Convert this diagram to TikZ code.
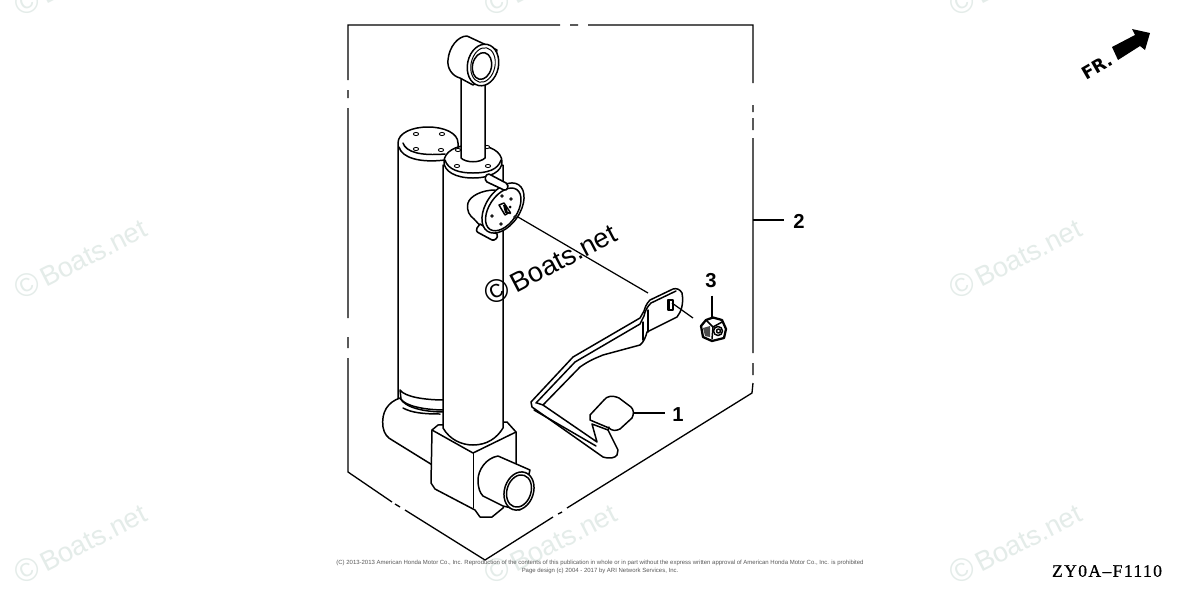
\documentclass[tikz,border=0pt]{standalone}
\usepackage{fontspec}
\setmainfont{Liberation Sans}
\newfontfamily\serifcode[LetterSpace=8,FakeBold=0.6]{Liberation Serif}
\newfontfamily\frfont{DejaVu Sans}
\newcommand{\wmtext}{{\fontsize{18.5pt}{18pt}\selectfont ©}\hspace{0.15em}Boats.net}
\newcommand{\wmark}[4]{\node[rotate=27,text=#3,font=\fontsize{15.6pt}{18pt}\selectfont] (#4) at (#1,#2) {\wmtext};}
\tikzset{
  ln/.style={line width=0.85pt,line join=round,line cap=round,draw=black},
  part/.style={ln,fill=white},
  thin part/.style={line width=0.55pt,line cap=round,line join=round,draw=black},
  frm/.style={line width=0.75pt,draw=black},
  hole/.style={line width=0.5pt,draw=black,fill=white},
  num/.style={font=\fontsize{11.5pt}{12pt}\selectfont\bfseries,inner sep=0pt},
  lead/.style={line width=0.7pt,draw=black}
}
\definecolor{wm}{RGB}{228,236,233}
\begin{document}
\begin{tikzpicture}[x=0.02cm,y=-0.02cm]
\useasboundingbox (0,0) rectangle (1200,599);
\fill[white] (0,0) rectangle (1200,599);
% watermarks
\wmark{80}{-25}{wm}{wa}\wmark{550}{-25}{wm}{wb}\wmark{1015}{-25}{wm}{wc}
\wmark{80}{258}{wm}{wd}\wmark{1015}{258}{wm}{we}
\wmark{80}{543}{wm}{wf}\wmark{550}{543}{wm}{wg}\wmark{1015}{543}{wm}{wh}
% frame
\draw[frm] (348,108) -- (348,318) (348,337) -- (348,348) (348,358) -- (348,472) -- (392,502)
  (395,504) -- (400,507) (405,510) -- (485,560) -- (553,517) (558,514) -- (562,512) (567,508) -- (752,393) -- (753,383)
  (753,375) -- (753,363) (753,353) -- (753,138) (753,130) -- (753,118) (753,112) -- (753,105) (753,83) -- (753,25) -- (588,25)
  (578,25) -- (570,25) (560,25) -- (348,25) -- (348,80) (348,90) -- (348,98);
% left cylinder
\draw[part] (398,405) -- (398,143) .. controls (398,133) and (412,127) .. (428,127) .. controls (444,127) and (458,133) .. (458,143) -- (458,410) -- (440,420) -- (405,410) -- cycle;
\draw[ln] (399,147) .. controls (402,158) and (420,163) .. (445,160);
\draw[ln] (403,143) .. controls (406,152) and (420,156) .. (445,154);
\foreach \p/\q in {416/134,442/134,416/149,441/150}{\draw[hole] (\p,\q) ellipse (2.6 and 1.6);}
% elbow below left cylinder
\draw[part] (400,398) .. controls (388,402) and (381,412) .. (383,427) .. controls (384,434) and (388,438) .. (392,440) -- (434,466) -- (445,425) -- (445,412) .. controls (425,412) and (405,408) .. (400,398) -- cycle;
\draw[part] (400,390) -- (401,399) .. controls (405,406) and (425,410) .. (445,410) -- (445,400) .. controls (425,400) and (405,397) .. (400,390) -- cycle;
\draw[ln] (403,408) .. controls (412,413) and (425,414) .. (440,414);
% block
\draw[part] (432,430) -- (438,425) -- (507,422) -- (516,432) -- (516,480) -- (503,508) -- (492,517) -- (480,517) -- (475,510) -- (435,489) -- (431,483) -- cycle;
\draw[ln] (432,430) -- (473,453) -- (516,432);
\draw[thin part] (473,453) -- (473,508);
% port
\draw[part] (498,456) .. controls (486,458) and (478,470) .. (478,480) .. controls (478,488) and (480,493) .. (483,496) -- (503,506) -- (520,510) -- (530,470) -- cycle;
\draw[part,rotate around={-18:(519,491)}] (519,491) ellipse (14.5 and 19.5);
\draw[ln,rotate around={-18:(519,491)}] (519,491) ellipse (12 and 16.5);
% right cylinder
\draw[part] (443,165) -- (443,428) .. controls (450,440) and (462,445) .. (473,445) .. controls (487,445) and (497,438) .. (503,428) -- (503,165) -- cycle;
% flange
\draw[part] (473,145) .. controls (491,145) and (502,152) .. (502,162) .. controls (502,171) and (491,178) .. (473,178) .. controls (455,178) and (444,171) .. (444,162) .. controls (444,152) and (455,145) .. (473,145) -- cycle;
\draw[ln] (445,160) .. controls (448,170) and (460,173) .. (473,173) .. controls (487,173) and (498,170) .. (501,160);
\foreach \p/\q in {458/150,487/147,457/166,488/166}{\draw[hole] (\p,\q) ellipse (2.6 and 1.6);}
% rod
\draw[part] (461,70) -- (461,158) .. controls (466,163) and (480,163) .. (485,158) -- (485,70) -- cycle;
% eye
\draw[part] (467,36) .. controls (458,36) and (449,47) .. (448,60) .. controls (447,68) and (452,76) .. (460,78) -- (473,85) -- (490,75) -- (497,50) -- cycle;
\draw[part,rotate around={-12:(483,65)}] (483,65) ellipse (15.5 and 21);
\draw[ln,rotate around={-12:(482,66)}] (482,66) ellipse (9.5 and 13.5);
\draw[thin part,rotate around={-12:(483,65)}] (483,65) ellipse (12 and 17.5);
% actuator
\draw[part] (495,190) .. controls (482,190) and (470,196) .. (468,203) .. controls (466,211) and (470,216) .. (474,219) -- (486,232) -- (505,215) -- cycle;
\draw[part,line width=0.9pt] (477,228) -- (480,224) -- (497,234) .. controls (499,238) and (494,241) .. (492,240) -- (479,233) .. controls (476,232) and (476,229) .. (477,228) -- cycle;
\draw[part,rotate around={56:(503,208)}] (503,208) ellipse (28 and 17);
\draw[ln,rotate around={56:(503,208)}] (502,209) ellipse (24 and 14);
\draw[part,line width=0.9pt] (489,174) -- (506,183) .. controls (510,186) and (507,191) .. (504,190) -- (487,182) .. controls (484,180) and (485,174) .. (489,174) -- cycle;
\foreach \p/\q in {502/196,492/216,501/224,515/217,511/199}{\draw[hole] (\p,\q) circle (1.3);}
\draw[ln,fill=white] (499,205) -- (504,203) -- (510,212) -- (505,215) -- cycle;
\fill[black] (503,205) -- (506,205) -- (508,213) -- (505,213) -- cycle;
\fill[black] (510,207) circle (1.5) (510,213) circle (1.3);
% bracket
\draw[part] (682,293) .. controls (680,289) and (676,288) .. (673,289) -- (650,300) .. controls (646,304) and (645,308) .. (644,311) -- (640,318) -- (573,357) -- (531,402) -- (532,407) -- (603,457) .. controls (610,459) and (615,458) .. (617,455) -- (618,450) -- (608,430) -- (592,424) -- (597,442) -- (543,405) -- (580,367) .. controls (590,360) and (596,358) .. (603,355) -- (640,345) .. controls (644,342) and (646,336) .. (647,332) -- (677,317) .. controls (681,312) and (684,304) .. (682,293) -- cycle;
\draw[ln] (536,403) -- (575,362) -- (640,324) -- (644,316) .. controls (645,311) and (647,307) .. (651,303) -- (676,291);
\draw[ln] (543,405) -- (537,403);
\draw[ln] (534,410) -- (596,446);
\draw[ln] (643,322) -- (643,340);
\draw[ln] (648,310) -- (648,332);
% foot pad
\draw[part] (590,415) -- (604,400) .. controls (607,396) and (612,395) .. (619,398) -- (631,407) .. controls (634,410) and (634,414) .. (632,418) -- (620,429) .. controls (616,431) and (612,431) .. (609,428) -- (590,420) -- cycle;
\draw[ln] (608,430) -- (609,427);
\draw[ln,fill=white] (668,300) rectangle (673,310);
\fill[black] (668,300) rectangle (670,310);
% nut
\draw[part,line width=1.3pt] (713,317.5) -- (722,320) -- (726,329) -- (724,338) -- (712,341) -- (703,337) -- (701,326) -- (706,320) -- cycle;
\draw[ln] (706,320) -- (713,327) -- (722,322) (713,327) -- (712,339);
\draw[ln,fill=white] (718,331) circle (4.5);
\draw[ln] (718.5,331) circle (2);
\fill[black!70] (703,328) -- (710,326) -- (710,337) -- (705,336) -- cycle;
% assembly leader lines
\coordinate (dsk) at (518,217);
\coordinate (brk) at (648,293);
\draw[lead] (dsk) -- (brk);
\coordinate (hl) at (672,303);
\coordinate (hr) at (693,318);
\draw[lead] (hl) -- (hr);
% central watermark
\node[rotate=27.5,font=\fontsize{15.6pt}{18pt}\selectfont] (wmain) at (550,263) {\wmtext};
% numbers
\node[num] (n1) at (678,415) {1};
\node[num] (n2) at (799,221) {2};
\node[num] (n3) at (711,281) {3};
\coordinate (p1) at (633,413);
\coordinate (p2) at (753,220);
\coordinate (p3) at (712,318);
\draw[lead] (p1) -- ([xshift=-4]n1.west |- p1);
\draw[lead] (p2) -- ([xshift=-5]n2.west |- p2);
\draw[lead] ([yshift=-4]n3.south -| p3) -- (p3);
% FR arrow
\node[rotate=30,font=\frfont\fontsize{10pt}{12pt}\selectfont\bfseries,inner sep=0pt] (fr) at (1097,67) {FR.};
\fill[black] (1112,47) -- (1135,35) -- (1132,29) -- (1150,33) -- (1145,50) -- (1140,46) -- (1118,60) -- cycle;
% code
\node[font=\serifcode\fontsize{10pt}{11pt}\selectfont,inner sep=0pt] (code) at (1107,571) {ZY0A–F1110};
% copyright
\node[font=\fontsize{3.41pt}{4pt}\selectfont,text=black!65,inner sep=0pt] (c1) at (600,563) {(C) 2013-2013 American Honda Motor Co., Inc. Reproduction of the contents of this publication in whole or in part without the express written approval of American Honda Motor Co., Inc. is prohibited};
\node[font=\fontsize{3.41pt}{4pt}\selectfont,text=black!65,inner sep=0pt] (c2) at (600,571) {Page design (c) 2004 - 2017 by ARI Network Services, Inc.};
\end{tikzpicture}
\end{document}
